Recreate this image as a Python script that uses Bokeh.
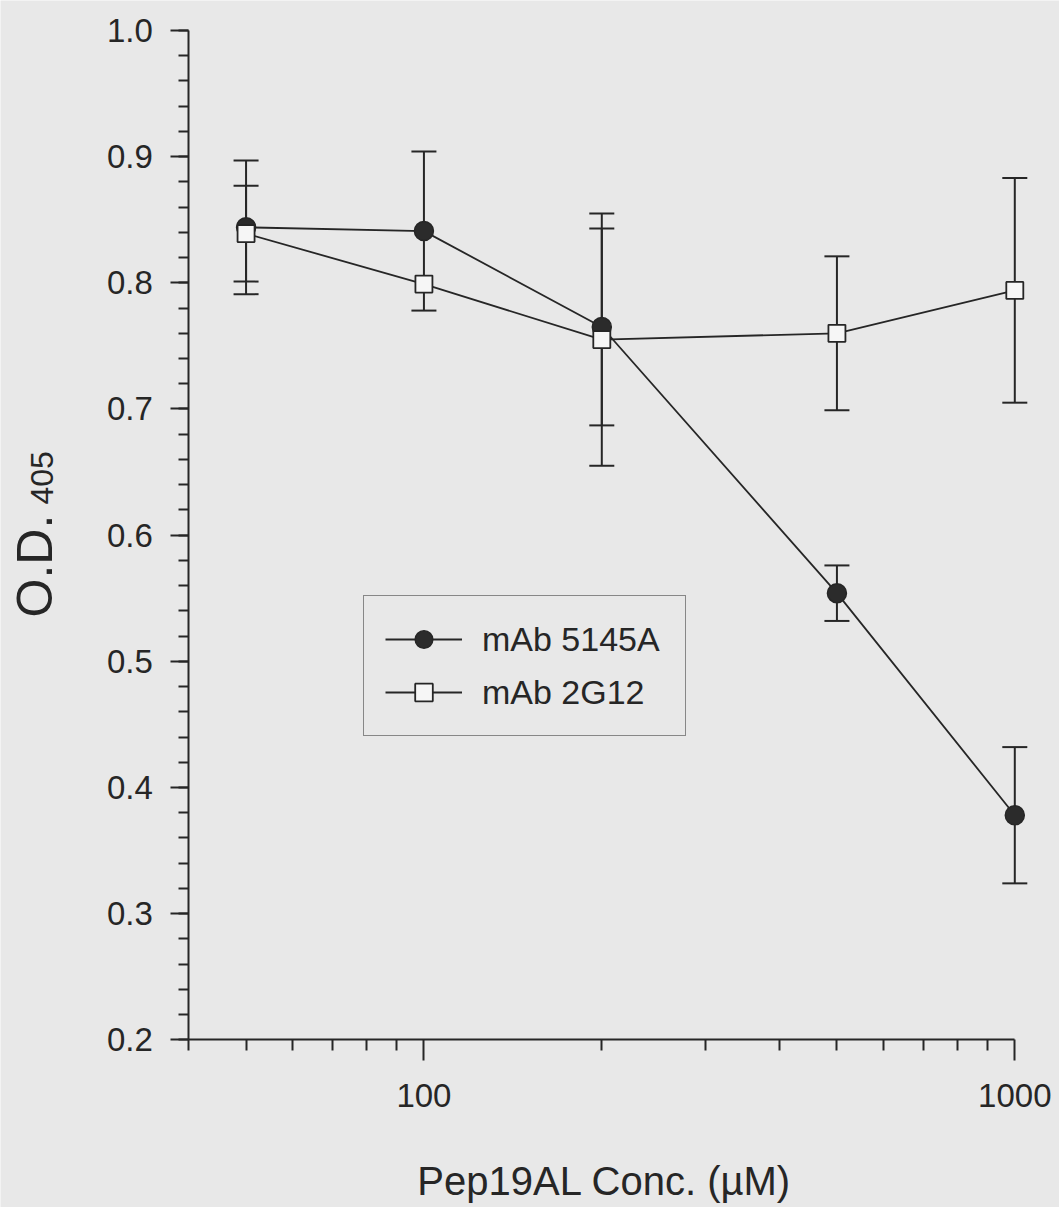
import math
from bokeh.plotting import figure
from bokeh.models import (ColumnDataSource, Whisker, TeeHead, FixedTicker,
                          PrintfTickFormatter, Legend, LegendItem, Label, Range1d)
from bokeh.embed import file_html
from bokeh.resources import INLINE

# ---------------- data ----------------
conc = [50, 100, 200, 500, 1000]                 # Pep19AL concentration (uM)
od_5145A = [0.844, 0.841, 0.765, 0.554, 0.378]   # mAb 5145A mean O.D.405
sd_5145A = [0.053, 0.063, 0.078, 0.022, 0.054]
od_2G12 = [0.839, 0.799, 0.755, 0.760, 0.794]    # mAb 2G12 mean O.D.405
sd_2G12 = [0.038, None, 0.100, 0.061, 0.089]     # no visible bar at 100 uM

series_labels = ["mAb 5145A", "mAb 2G12"]
x_major = [100, 1000]
x_minor = [40, 50, 60, 70, 80, 90, 200, 300, 400, 500, 600, 700, 800, 900]
y_major = [0.2, 0.3, 0.4, 0.5, 0.6, 0.7, 0.8, 0.9, 1.0]
y_minor = [round(0.2 + 0.02 * i, 2) for i in range(41)]
x_title = "Pep19AL Conc. (\u00b5M)"
y_title_main = "O.D."
y_title_sub = "405"

INK = "#262626"
BG = "#e8e8e8"
FONT = "Liberation Sans"

# ---------------- layout (pixel positions of the axes) ----------------
W, H = 1059, 1207
AX_L, AX_R = 188.3, 1014.3     # pixels of x = 40 and x = 1000
AX_T, AX_B = 30.0, 1039.3      # pixels of y = 1.0 and y = 0.2
XLO, XHI = 40, 1000
YLO, YHI = 0.2, 1.0
dec = (AX_R - AX_L) / (math.log10(XHI) - math.log10(XLO))
x_start = 10 ** (math.log10(XLO) - AX_L / dec)
x_end = 10 ** (math.log10(XHI) + (W - AX_R) / dec)
ppu = (AX_B - AX_T) / (YHI - YLO)
y_end = YHI + AX_T / ppu
y_start = YLO - (H - AX_B) / ppu

p = figure(width=W, height=H, x_axis_type="log",
           x_range=Range1d(x_start, x_end), y_range=Range1d(y_start, y_end),
           output_backend="svg", toolbar_location=None, title_location=None,
           min_border=0, min_border_left=0, min_border_right=0,
           min_border_top=0, min_border_bottom=0)
p.background_fill_color = BG
p.border_fill_color = BG
p.outline_line_color = None
p.xgrid.visible = False
p.ygrid.visible = False

# axes drawn at fixed data locations inside the frame
p.xaxis.fixed_location = YLO
p.xaxis.bounds = (XLO, XHI)
p.yaxis.fixed_location = XLO
p.yaxis.bounds = (YLO, YHI)
p.xaxis.ticker = FixedTicker(ticks=x_major, minor_ticks=x_minor)
p.xaxis.formatter = PrintfTickFormatter(format="%d")
p.yaxis.ticker = FixedTicker(ticks=y_major, minor_ticks=y_minor)
p.yaxis.formatter = PrintfTickFormatter(format="%.1f")
for ax in (p.xaxis, p.yaxis):
    ax.axis_line_color = INK
    ax.axis_line_width = 2
    ax.major_tick_line_color = INK
    ax.major_tick_line_width = 2
    ax.minor_tick_line_color = INK
    ax.minor_tick_line_width = 2
    ax.major_tick_in = 0
    ax.minor_tick_in = 0
    ax.major_label_text_font = FONT
    ax.major_label_text_color = INK
    ax.major_label_text_font_size = "33px"
p.xaxis.major_tick_out = 21
p.xaxis.minor_tick_out = 11
p.xaxis.major_label_standoff = 23
p.yaxis.major_tick_out = 18
p.yaxis.minor_tick_out = 10
p.yaxis.major_label_standoff = 18

src1 = ColumnDataSource(dict(x=conc, y=od_5145A))
src2 = ColumnDataSource(dict(x=conc, y=od_2G12))


def err_source(xs, ms, ss):
    keep = [(x, m, s) for x, m, s in zip(xs, ms, ss) if s is not None]
    return ColumnDataSource(dict(x=[k[0] for k in keep],
                                 lo=[k[1] - k[2] for k in keep],
                                 hi=[k[1] + k[2] for k in keep]))


for esrc in (err_source(conc, od_5145A, sd_5145A), err_source(conc, od_2G12, sd_2G12)):
    w = Whisker(base="x", lower="lo", upper="hi", source=esrc, dimension="height",
                line_color=INK, line_width=2,
                upper_head=TeeHead(size=25, line_color=INK, line_width=2),
                lower_head=TeeHead(size=25, line_color=INK, line_width=2))
    p.add_layout(w)

l1 = p.line("x", "y", source=src1, line_color=INK, line_width=1.8)
l2 = p.line("x", "y", source=src2, line_color=INK, line_width=1.8)
m1 = p.scatter("x", "y", source=src1, marker="circle", size=19,
               fill_color="#2b2b2b", line_color=INK, line_width=1.5)
m2 = p.scatter("x", "y", source=src2, marker="square", size=17,
               fill_color="#f6f6f6", line_color=INK, line_width=1.8)

legend = Legend(items=[LegendItem(label=series_labels[0], renderers=[l1, m1]),
                       LegendItem(label=series_labels[1], renderers=[l2, m2])],
                location=(363, H - 736), orientation="vertical",
                border_line_color=INK, border_line_width=1.8,
                background_fill_color=BG, background_fill_alpha=1.0,
                padding=21, spacing=9, margin=0,
                glyph_width=77, glyph_height=44, label_standoff=20,
                label_width=182,
                label_text_font=FONT, label_text_font_size="34px",
                label_text_color=INK)
p.add_layout(legend, "center")

# axis titles (screen units: origin at bottom-left of the canvas)
p.add_layout(Label(x=604, y=H - 1180, x_units="screen", y_units="screen",
                   text=x_title, text_align="center", text_baseline="middle",
                   text_font=FONT, text_font_size="40px", text_color=INK))
p.add_layout(Label(x=34, y=H - 617, x_units="screen", y_units="screen",
                   text=y_title_main, angle=math.pi / 2, text_align="left",
                   text_baseline="middle",
                   text_font=FONT, text_font_size="50px", text_color=INK))
p.add_layout(Label(x=41, y=H - 504, x_units="screen", y_units="screen",
                   text=y_title_sub, angle=math.pi / 2, text_align="left",
                   text_baseline="middle",
                   text_font=FONT, text_font_size="32px", text_color=INK))

open("out.html", "w").write(file_html(p, INLINE))
